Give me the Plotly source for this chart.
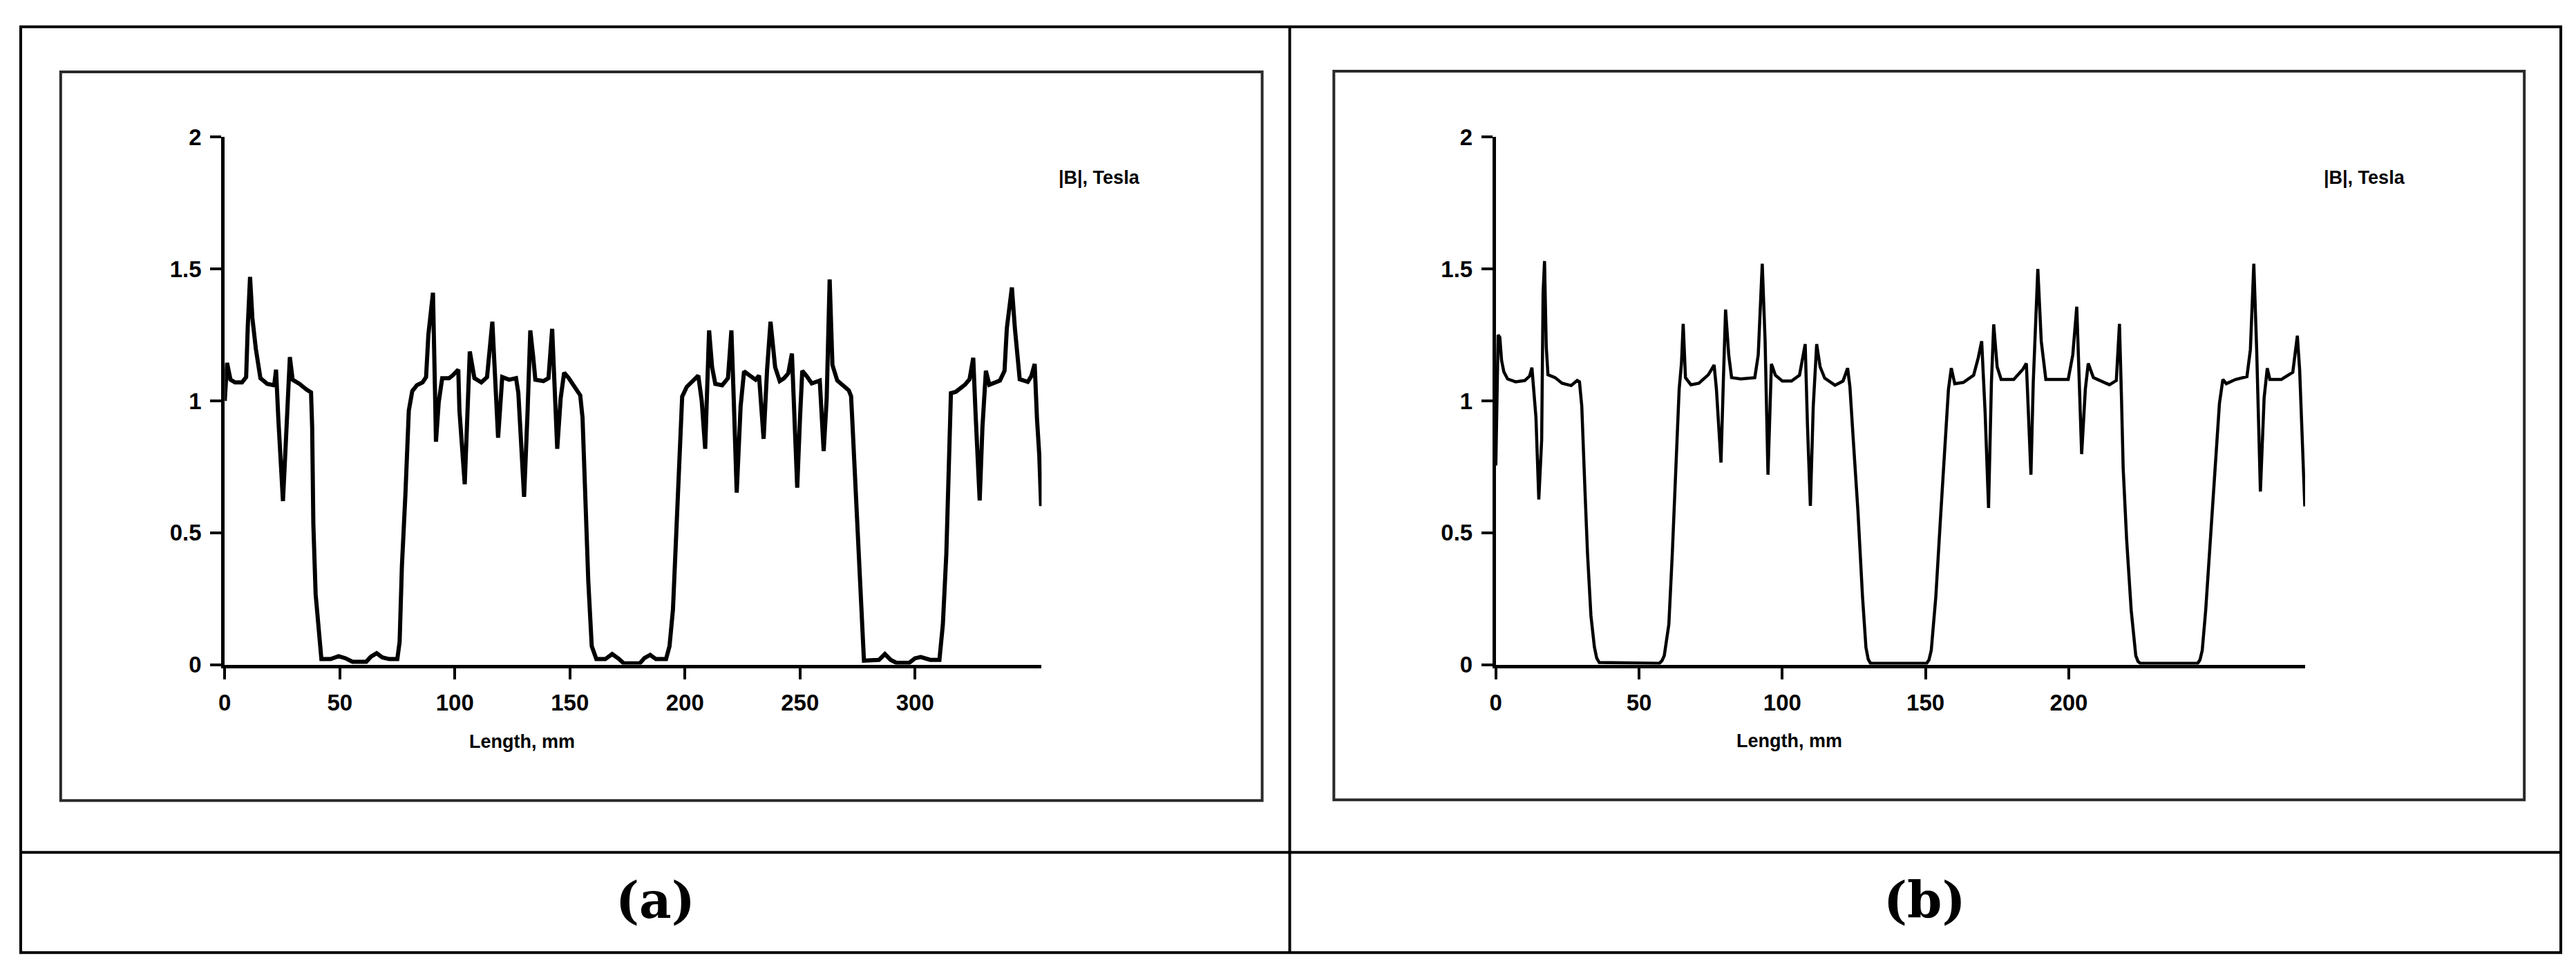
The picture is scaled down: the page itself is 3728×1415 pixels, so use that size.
import plotly.graph_objects as go

W, H = 3728, 1415
# the page body keeps its default 8px margin, so the figure is a bit smaller and offset
PAD = 8
FW, FH = W - 2 * PAD, H - 2 * PAD

# (a) |B| along the length, mm / Tesla
a_length = [0, 1, 2.5, 4.5, 7.5, 9.3, 10, 11, 12, 13.5, 15.5, 18.5, 21.5, 22.3, 23.3, 25.3, 26.5, 28.3, 29.5,
            32.5, 35.5, 37.5, 38, 38.5, 39.5, 41, 42, 46, 49.5, 52.5, 55.5, 61.5, 63.5, 66, 68.5, 71.5, 75,
            76, 77, 78.5, 80, 81.5, 83.5, 86, 87.5, 88.5, 90.5, 91.5, 91.8, 93, 94.5, 97.5, 99, 101.5, 102,
            104.3, 105.5, 106.5, 108.5, 111.5, 114, 116.3, 118.8, 120.6, 123.6, 126.6, 127.6, 130.1, 131.6,
            132.8, 134, 135, 138.5, 140.7, 142.3, 143.5, 144.5, 146, 147.5, 149.5, 152.5, 154.5, 155.5,
            156.5, 158, 159.5, 161.5, 165.4, 168.4, 171.4, 173.4, 180.4, 182.4, 184.9, 187.4, 191.8, 193.3,
            194.8, 196.3, 197.8, 198.8, 200.8, 203.8, 205.8, 207.3, 208.8, 210.5, 211.8, 213.2, 216.2,
            218.7, 220.2, 221.2, 222.5, 224.2, 225.7, 228.2, 230.7, 232.2, 233.2, 234.2, 235.7, 237.2,
            239.2, 241.2, 243.1, 244.9, 246.5, 247.5, 248.8, 250, 251, 253, 255.1, 258.6, 260.3, 261.6,
            262.9, 264.1, 266.2, 271.2, 272.2, 272.7, 273.7, 275.3, 276.8, 277.8, 284.3, 286.9, 289.4,
            291.9, 297.5, 300, 302.5, 306.6, 310.6, 312.1, 313.6, 314.6, 315.6, 317.7, 321.7, 323.7, 325.3,
            326.3, 328.1, 329.3, 330.8, 332.3, 336.9, 338.9, 339.9, 342.1, 343.4, 345.5, 349, 350.5, 352,
            353, 354, 354.8]
a_b = [1.0, 1.144, 1.08, 1.07, 1.07, 1.09, 1.28, 1.47, 1.315, 1.198, 1.086, 1.064, 1.059, 1.118, 0.93, 0.62,
       0.834, 1.166, 1.08, 1.064, 1.043, 1.032, 0.898, 0.535, 0.267, 0.107, 0.021, 0.021, 0.032, 0.024,
       0.011, 0.011, 0.03, 0.043, 0.027, 0.021, 0.021, 0.086, 0.374, 0.642, 0.963, 1.037, 1.059, 1.07,
       1.09, 1.251, 1.41, 0.984, 0.845, 0.995, 1.086, 1.086, 1.096, 1.118, 0.963, 0.684, 1.016, 1.187,
       1.086, 1.07, 1.09, 1.30, 0.86, 1.09, 1.08, 1.086, 1.03, 0.636, 0.957, 1.267, 1.171, 1.08, 1.075,
       1.086, 1.273, 1.0, 0.818, 1.01, 1.107, 1.086, 1.043, 1.021, 0.936, 0.636, 0.316, 0.07, 0.021,
       0.021, 0.04, 0.021, 0.005, 0.005, 0.025, 0.037, 0.021, 0.021, 0.07, 0.209, 0.53, 0.807, 1.016,
       1.053, 1.08, 1.096, 1.0, 0.818, 1.267, 1.128, 1.064, 1.059, 1.086, 1.267, 1.01, 0.652, 0.979,
       1.112, 1.096, 1.08, 1.096, 0.99, 0.856, 1.118, 1.30, 1.128, 1.075, 1.086, 1.104, 1.179, 0.954,
       0.671, 0.933, 1.114, 1.093, 1.066, 1.077, 0.81, 1.007, 1.46, 1.136, 1.077, 1.04, 1.018, 0.933,
       0.74, 0.473, 0.205, 0.015, 0.018, 0.04, 0.018, 0.007, 0.007, 0.024, 0.029, 0.018, 0.018, 0.152,
       0.419, 0.74, 1.029, 1.034, 1.061, 1.082, 1.163, 0.954, 0.622, 0.9, 1.114, 1.061, 1.077, 1.114,
       1.275, 1.43, 1.275, 1.082, 1.072, 1.093, 1.14, 0.933, 0.794, 0.601]

# (b)
b_length = [0, 0.8, 1.4, 2, 2.8, 4.1, 6.9, 10.1, 11.8, 12.6, 13.2, 14, 15, 16, 16.5, 17, 17.6, 18.2, 20.7,
            23.1, 26.3, 28.4, 29.2, 30, 31.2, 32, 33.2, 34.4, 35.2, 36.1, 57.1, 58, 58.8, 60.4, 61.6, 62.8,
            64, 64.8, 65.4, 66.2, 68.1, 70.9, 74.2, 76.2, 77, 77.8, 78.6, 79.4, 80.2, 81.3, 82.3, 85.5,
            90.4, 91.6, 93, 94, 95, 96.2, 97.6, 100, 103.2, 106, 108, 108.8, 109.8, 110.8, 112, 113.2,
            114.8, 118.4, 121.2, 122.8, 123.6, 124.8, 126.4, 128, 129.2, 130, 130.8, 150.4, 151.2, 152,
            153.6, 155.2, 156.8, 158, 159, 160.2, 163.2, 166.8, 168.4, 169.6, 170.8, 172, 173, 173.8, 175,
            176.4, 180.8, 184, 185.2, 186, 186.8, 187.6, 188.4, 189.2, 190.4, 192, 199.8, 201.4, 202.8,
            203.7, 204.5, 205.8, 206.8, 208.6, 211.8, 214.2, 216.6, 217.7, 218.4, 219, 220.2, 221.8, 223.4,
            224.2, 225, 245, 245.8, 246.6, 247.8, 249.4, 251, 252.6, 253.8, 255, 258.2, 262.2, 263.4,
            264.6, 265.6, 266.2, 266.9, 268.2, 269.3, 270.2, 274.2, 278.2, 279.8, 280.6, 281.4, 282.4]
b_b = [0.755, 1.25, 1.24, 1.153, 1.11, 1.083, 1.072, 1.077, 1.094, 1.126, 1.045, 0.938, 0.626, 0.852, 1.41,
       1.53, 1.206, 1.099, 1.088, 1.067, 1.058, 1.077, 1.072, 0.98, 0.637, 0.422, 0.185, 0.067, 0.025,
       0.008, 0.005, 0.015, 0.034, 0.153, 0.42, 0.744, 1.045, 1.142, 1.292, 1.088, 1.061, 1.067, 1.099,
       1.136, 1.045, 0.905, 0.766, 1.067, 1.346, 1.174, 1.088, 1.083, 1.088, 1.174, 1.52, 1.228, 0.72,
       1.14, 1.097, 1.075, 1.075, 1.097, 1.215, 0.903, 0.602, 0.978, 1.215, 1.129, 1.086, 1.059, 1.075,
       1.124, 1.054, 0.849, 0.583, 0.258, 0.065, 0.02, 0.005, 0.005, 0.018, 0.054, 0.258, 0.551, 0.83,
       1.043, 1.124, 1.065, 1.07, 1.097, 1.163, 1.226, 0.957, 0.594, 1.067, 1.29, 1.129, 1.081, 1.081,
       1.12, 1.142, 0.957, 0.72, 1.067, 1.28, 1.50, 1.226, 1.081, 1.081, 1.174, 1.357, 1.013, 0.798,
       1.045, 1.142, 1.088, 1.072, 1.061, 1.077, 1.292, 1.013, 0.744, 0.475, 0.206, 0.034, 0.012, 0.005,
       0.005, 0.018, 0.054, 0.206, 0.475, 0.744, 0.99, 1.081, 1.065, 1.081, 1.092, 1.194, 1.52, 1.194,
       0.957, 0.656, 1.011, 1.124, 1.081, 1.081, 1.108, 1.247, 1.118, 0.849, 0.6]

a_xticks = [0, 50, 100, 150, 200, 250, 300]
b_xticks = [0, 50, 100, 150, 200]
y_ticks = [0, 0.5, 1, 1.5, 2]


def px(x):
    return (x - PAD) / FW


def py(y):
    return 1 - (y - PAD) / FH


fig = go.Figure()
fig.add_trace(go.Scatter(x=a_length, y=a_b, mode="lines", line=dict(color="black", width=6),
                         xaxis="x", yaxis="y"))
fig.add_trace(go.Scatter(x=b_length, y=b_b, mode="lines", line=dict(color="black", width=4.5),
                         xaxis="x2", yaxis="y2"))

tick_font = dict(family="Liberation Sans, Arial, sans-serif", size=33, color="black", weight="bold")
common = dict(showgrid=False, zeroline=False, showline=True, linecolor="black", linewidth=5,
              ticks="outside", ticklen=16, tickwidth=4, tickcolor="black", tickfont=tick_font,
              ticklabelstandoff=6, fixedrange=True)

fig.update_layout(
    width=FW, height=FH, margin=dict(l=0, r=0, t=0, b=0),
    paper_bgcolor="white", plot_bgcolor="white", showlegend=False,
    xaxis=dict(domain=[px(317), px(1502)], range=[0, 355], tickvals=a_xticks, anchor="y", **common),
    yaxis=dict(domain=[py(969), py(185)], range=[0, 2], tickvals=y_ticks, anchor="x", **common),
    xaxis2=dict(domain=[px(2161), px(3335)], range=[0, 282.5], tickvals=b_xticks, anchor="y2", **common),
    yaxis2=dict(domain=[py(969), py(185)], range=[0, 2], tickvals=y_ticks, anchor="x2", **common),
)

# table grid and the two chart frames
shapes = [
    dict(type="rect", x0=px(21), x1=px(3706), y0=py(1397), y1=py(21), line=dict(color="black", width=4)),
    dict(type="line", x0=px(1862), x1=px(1862), y0=py(1397), y1=py(21), line=dict(color="black", width=4)),
    dict(type="line", x0=px(21), x1=px(3706), y0=py(1248), y1=py(1248), line=dict(color="black", width=4)),
    dict(type="rect", x0=px(79), x1=px(1822), y0=py(1171), y1=py(88), line=dict(color="#2a2a2a", width=4)),
    dict(type="rect", x0=px(1926), x1=px(3653), y0=py(1170), y1=py(87), line=dict(color="#2a2a2a", width=4)),
]
for s in shapes:
    s.update(xref="paper", yref="paper")
fig.update_layout(shapes=shapes)

label_font = dict(family="Liberation Sans, Arial, sans-serif", size=27, color="black", weight="bold")
panel_font = dict(family="DejaVu Serif, Liberation Serif, serif", size=72, color="black", weight="bold")
notes = [
    ("|B|, Tesla", 1586, 245, label_font),
    ("|B|, Tesla", 3421, 245, label_font),
    ("Length, mm", 748, 1083, label_font),
    ("Length, mm", 2587, 1082, label_font),
    ("(a)", 942, 1319, panel_font),
    ("(b)", 2783, 1319, panel_font),
]
for text, x, y, font in notes:
    fig.add_annotation(text=text, x=px(x), y=py(y), xref="paper", yref="paper",
                       xanchor="center", yanchor="middle", showarrow=False, font=font)

fig.write_html("out.html")
